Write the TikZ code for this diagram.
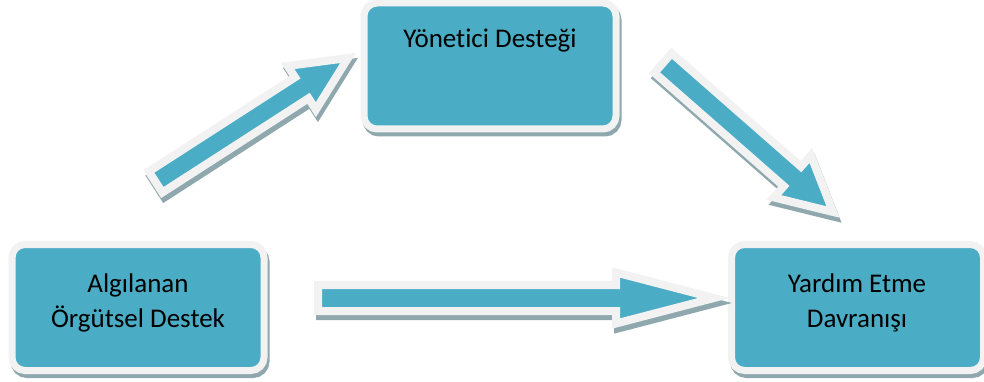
\documentclass[tikz,border=0pt]{standalone}
\usepackage{fontspec}
\setmainfont{Carlito}[Ligatures=NoCommon]
\usetikzlibrary{calc}
\definecolor{tealc}{HTML}{4BACC6}
\definecolor{lightc}{HTML}{F2F2F2}
\definecolor{shadowc}{HTML}{8EA8AD}
\tikzset{
  boxstyle/.style={rectangle, rounded corners=13pt, fill=tealc, draw=lightc, line width=7pt,
    minimum width=252pt, minimum height=126pt, inner sep=0pt,
    preaction={draw=shadowc, fill=shadowc, line width=7pt, transform canvas={xshift=2pt,yshift=-4pt}}},
  arrowstyle/.style={fill=tealc, draw=lightc, line width=8pt, line join=miter, miter limit=10,
    preaction={draw=shadowc, fill=shadowc, line width=8pt, line join=miter, transform canvas={xshift=2pt,yshift=-5pt}}},
  labelstyle/.style={font=\fontsize{27}{35}\selectfont, align=center, text=black, inner sep=0pt}
}
% #1 prefix, #2 tail, #3 tip, #4 shaft half, #5 head half, #6 head length
\newcommand\blockarrow[6]{%
  \coordinate (#1h) at ($(#3)!#6pt!(#2)$);
  \path[arrowstyle] ($(#2)!#4pt!90:(#3)$) -- ($(#1h)!#4pt!90:(#3)$) -- ($(#1h)!#5pt!90:(#3)$) -- (#3)
    -- ($(#1h)!#5pt!-90:(#3)$) -- ($(#1h)!#4pt!-90:(#3)$) -- ($(#2)!#4pt!-90:(#3)$) -- cycle;
}
\begin{document}
\begin{tikzpicture}[x=1pt,y=-1pt]
\useasboundingbox (0,0) rectangle (984,382);
\clip (0,0) rectangle (984,382);
% boxes
\node[boxstyle] (yon) at (490,66) {};
\node[boxstyle] (alg) at (138,307.5) {};
\node[boxstyle] (yar) at (857.5,307.5) {};
% arrows
\coordinate (a1t) at (155.6,182);
\coordinate (a1p) at (348,58);
\coordinate (a2t) at (663,63);
\coordinate (a2p) at (833,212);
\coordinate (a3t) at (318,298);
\coordinate (a3p) at (714,298);
\blockarrow{a1}{a1t}{a1p}{12.5}{26}{55}
\blockarrow{a2}{a2t}{a2p}{13}{28}{54}
\blockarrow{a3}{a3t}{a3p}{13}{25.5}{98}
% labels
\node[labelstyle, anchor=base] (yonl) at (490,48) {Yönetici Desteği};
\node[labelstyle, anchor=base] (algl) at (138,327) {Algılanan\\Örgütsel Destek};
\node[labelstyle, anchor=base] (yarl) at (857,327) {Yardım Etme\\Davranışı};
\end{tikzpicture}
\end{document}
